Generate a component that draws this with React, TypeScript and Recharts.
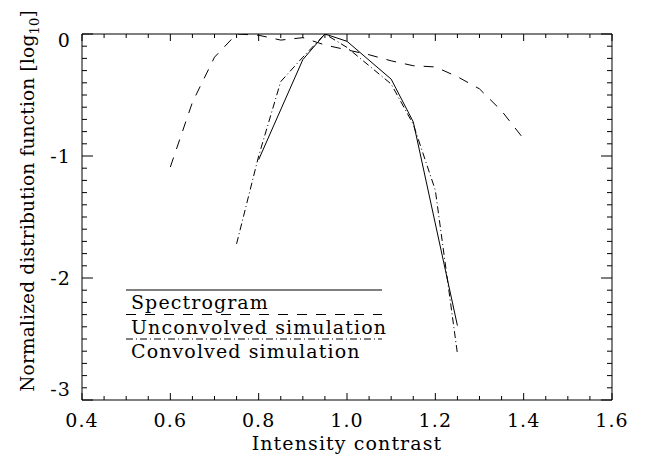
import { LineChart, Line, XAxis, YAxis, Legend } from "recharts";

// values (x = intensity contrast, y = log10 of the normalized PDF)
const spectrogramX = [0.8, 0.9, 0.95, 1.0, 1.1, 1.15, 1.25];
const spectrogramY = [-1.03, -0.21, 0.0, -0.06, -0.37, -0.72, -2.39];

const unconvolvedX = [0.6, 0.65, 0.7, 0.75, 0.8, 0.85, 0.9, 0.95, 1.0, 1.05, 1.1, 1.15, 1.2, 1.25, 1.3, 1.35, 1.4];
const unconvolvedY = [-1.09, -0.56, -0.19, 0.0, -0.01, -0.05, -0.03, -0.09, -0.13, -0.17, -0.22, -0.26, -0.27, -0.35, -0.45, -0.63, -0.86];

const convolvedX = [0.75, 0.8, 0.85, 0.9, 0.95, 1.0, 1.1, 1.15, 1.2, 1.25];
const convolvedY = [-1.72, -1.0, -0.39, -0.19, 0.0, -0.11, -0.41, -0.74, -1.28, -2.62];

const seriesNames = ["Spectrogram", "Unconvolved simulation", "Convolved simulation"];

const xMajorTicks = [0.4, 0.6, 0.8, 1.0, 1.2, 1.4, 1.6];
const xTickLabels = ["0.4", "0.6", "0.8", "1.0", "1.2", "1.4", "1.6"];
const xMinorTicks = [0.45, 0.5, 0.55, 0.65, 0.7, 0.75, 0.85, 0.9, 0.95, 1.05, 1.1, 1.15, 1.25, 1.3, 1.35, 1.45, 1.5, 1.55];

const yMajorTicks = [0, -1, -2, -3];
const yTickLabels = ["0", "-1", "-2", "-3"];
const yMinorTicks = [
  -0.1, -0.2, -0.3, -0.4, -0.5, -0.6, -0.7, -0.8, -0.9,
  -1.1, -1.2, -1.3, -1.4, -1.5, -1.6, -1.7, -1.8, -1.9,
  -2.1, -2.2, -2.3, -2.4, -2.5, -2.6, -2.7, -2.8, -2.9,
];

const xTitle = "Intensity contrast";
const yTitle = "Normalized distribution function [log";
const yTitleSub = "10";

const toPoints = (xs: number[], ys: number[]) => xs.map((x, i) => ({ x, y: ys[i] }));

const dashes: Record<string, string | undefined> = {
  Spectrogram: undefined,
  "Unconvolved simulation": "10 9",
  "Convolved simulation": "7 3 1 3",
};

const FONT = "'DejaVu Serif', serif";
const W = 647;
const H = 456;
// plot box: left 82, right 612, top 34, bottom 400 (axes take 1px each)
const MARGIN = { top: 33, right: 34, bottom: 55, left: 81 };

const allX = [...xMajorTicks, ...xMinorTicks].sort((a, b) => a - b);
const allY = [...yMajorTicks, ...yMinorTicks].sort((a, b) => a - b);

const majorIndex = (list: number[], v: number) => list.findIndex((m) => Math.abs(m - v) < 1e-6);

const textStyle = { fontFamily: FONT, fontSize: 19, letterSpacing: 1.1, fill: "#000" };

function BottomTick(props: any) {
  const { x, y, payload } = props;
  const idx = majorIndex(xMajorTicks, payload.value);
  const len = idx >= 0 ? 7 : 4;
  return (
    <g>
      <line x1={x} x2={x} y1={y} y2={y - len} stroke="#000" />
      {idx >= 0 && (
        <text x={x} y={y + 27} textAnchor="middle" style={textStyle}>
          {xTickLabels[idx]}
        </text>
      )}
    </g>
  );
}

function TopTick(props: any) {
  const { x, y, payload } = props;
  const len = majorIndex(xMajorTicks, payload.value) >= 0 ? 7 : 4;
  return <line x1={x} x2={x} y1={y} y2={y + len} stroke="#000" />;
}

function LeftTick(props: any) {
  const { x, y, payload } = props;
  const idx = majorIndex(yMajorTicks, payload.value);
  const len = idx >= 0 ? 11 : 5;
  // IDL nudged the end labels inward
  const shift = idx === 0 ? 6 : idx === yMajorTicks.length - 1 ? -11 : 0;
  return (
    <g>
      <line x1={x} x2={x + len} y1={y} y2={y} stroke="#000" />
      {idx >= 0 && (
        <text x={x - 11} y={y + 7 + shift} textAnchor="end" style={textStyle}>
          {yTickLabels[idx]}
        </text>
      )}
    </g>
  );
}

function RightTick(props: any) {
  const { x, y, payload } = props;
  const len = majorIndex(yMajorTicks, payload.value) >= 0 ? 11 : 5;
  return <line x1={x} x2={x - len} y1={y} y2={y} stroke="#000" />;
}

function XTitle() {
  const cx = MARGIN.left + 1 + (W - MARGIN.left - MARGIN.right - 2) / 2;
  const y = H - MARGIN.bottom - 1 + 50;
  return (
    <text x={cx} y={y} textAnchor="middle" style={textStyle}>
      {xTitle}
    </text>
  );
}

function YTitle() {
  const cx = 34;
  const cy = 201;
  return (
    <text
      x={cx}
      y={cy}
      transform={`rotate(-90, ${cx}, ${cy})`}
      textAnchor="middle"
      style={{ ...textStyle, fontSize: 18.5, letterSpacing: 0.2 }}
    >
      {yTitle}
      <tspan fontSize={13} dy={5}>
        {yTitleSub}
      </tspan>
      <tspan dy={-5}>]</tspan>
    </text>
  );
}

function LegendBox() {
  return (
    <svg width={262} height={84} style={{ display: "block", overflow: "visible" }}>
      {seriesNames.map((name, i) => {
        const ly = 10 + i * 24.5;
        return (
          <g key={name}>
            <line x1={0} x2={256} y1={ly} y2={ly} stroke="#000" strokeDasharray={dashes[name]} />
            <text x={5} y={ly + 19} style={textStyle}>
              {name}
            </text>
          </g>
        );
      })}
    </svg>
  );
}

export default function App() {
  const series = [
    { name: seriesNames[0], data: toPoints(spectrogramX, spectrogramY) },
    { name: seriesNames[1], data: toPoints(unconvolvedX, unconvolvedY) },
    { name: seriesNames[2], data: toPoints(convolvedX, convolvedY) },
  ];

  return (
    <div style={{ position: "absolute", left: 0, top: 0, width: W, height: H, background: "#fff" }}>
      <LineChart width={W} height={H} margin={MARGIN}>
        <XAxis
          xAxisId={0}
          type="number"
          dataKey="x"
          domain={[0.4, 1.6]}
          allowDataOverflow
          ticks={allX}
          interval={0}
          height={1}
          tickSize={0}
          tickMargin={0}
          tickLine={false}
          tick={BottomTick}
          axisLine={{ stroke: "#000" }}
          label={XTitle}
        />
        <XAxis
          xAxisId="top"
          orientation="top"
          type="number"
          dataKey="x"
          domain={[0.4, 1.6]}
          allowDataOverflow
          ticks={allX}
          interval={0}
          height={1}
          tickSize={0}
          tickMargin={0}
          tickLine={false}
          tick={TopTick}
          axisLine={{ stroke: "#000" }}
        />
        <YAxis
          yAxisId={0}
          type="number"
          domain={[-3, 0]}
          allowDataOverflow
          ticks={allY}
          interval={0}
          width={1}
          tickSize={0}
          tickMargin={0}
          tickLine={false}
          tick={LeftTick}
          axisLine={{ stroke: "#000" }}
          label={YTitle}
        />
        <YAxis
          yAxisId="right"
          orientation="right"
          type="number"
          domain={[-3, 0]}
          allowDataOverflow
          ticks={allY}
          interval={0}
          width={1}
          tickSize={0}
          tickMargin={0}
          tickLine={false}
          tick={RightTick}
          axisLine={{ stroke: "#000" }}
        />
        <Legend
          layout="vertical"
          align="center"
          verticalAlign="middle"
          wrapperStyle={{ position: "absolute", left: 126, top: 280, width: 262, height: 84 }}
          content={LegendBox}
        />
        {series.map((s) => (
          <Line
            key={s.name}
            name={s.name}
            data={s.data}
            dataKey="y"
            type="linear"
            stroke="#000"
            strokeWidth={1}
            strokeDasharray={dashes[s.name]}
            dot={false}
            activeDot={false}
            isAnimationActive={false}
          />
        ))}
      </LineChart>
    </div>
  );
}
